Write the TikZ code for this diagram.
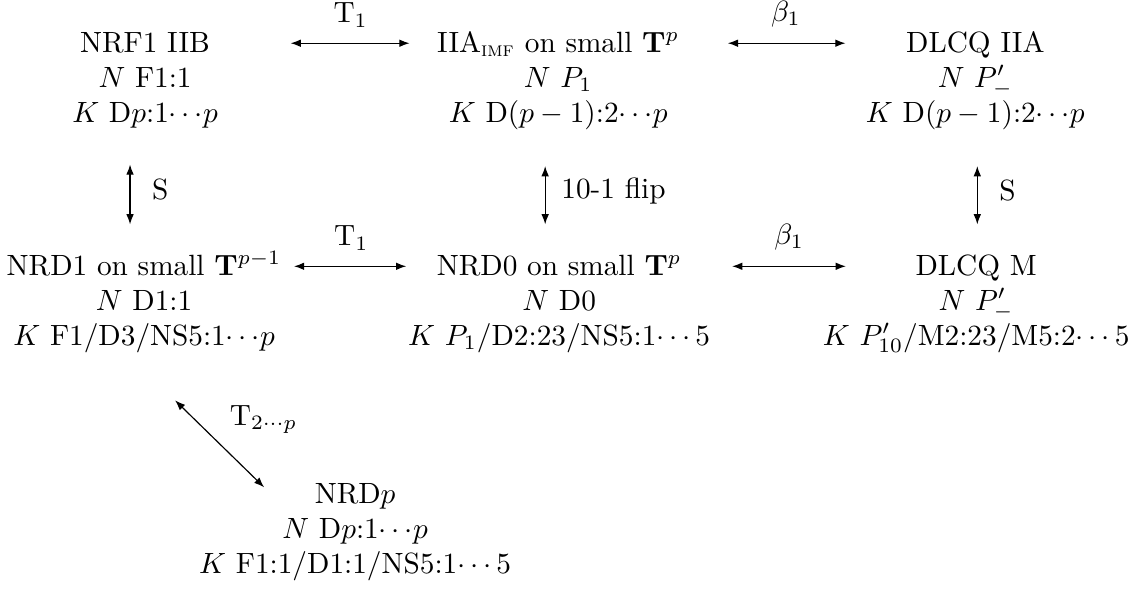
\documentclass[tikz,border=0pt]{standalone}
\usepackage{amsmath, amssymb}
\usetikzlibrary{arrows.meta, positioning}

\begin{document}
\begin{tikzpicture}[
    ttl/.style={inner sep=0pt, text height=8pt, text depth=2pt, anchor=base},
    dtl/.style={inner sep=0pt, align=center, anchor=base},
    arrow/.style={{Latex[length=3.5pt,width=2.6pt]}-{Latex[length=3.5pt,width=2.6pt]}, thin}
]
    \useasboundingbox (0,0) rectangle (13.58,-7.056);

    % Top row
    \node[ttl] (nrf) at (1.74,-0.624) {NRF1 IIB};
    \node[dtl] (nrfd) at ([yshift=-24pt]nrf.base) {$N$ F1:1\\$K$ D$p$:1${\cdots}p$};

    \node[ttl] (iia) at (6.696,-0.624) {IIA$_{\textsc{imf}}$ on small $\mathbf{T}^p$};
    \node[dtl] (iiad) at ([yshift=-24pt]iia.base) {$N$ $P_1$\\$K$ D$(p-1)$:2${\cdots}p$};

    \node[ttl] (dlcqa) at (11.70,-0.624) {DLCQ IIA};
    \node[dtl] (dlcqad) at ([yshift=-24pt]dlcqa.base) {$N$ $P'_-$\\$K$ D$(p-1)$:2${\cdots}p$};

    % Middle row
    \node[ttl] (nrd1) at (1.728,-3.30) {NRD1 on small $\mathbf{T}^{p-1}$};
    \node[dtl] (nrd1d) at ([yshift=-24pt]nrd1.base) {$N$ D1:1\\$K$ F1/D3/NS5:1${\cdots}p$};

    \node[ttl] (nrd0) at (6.708,-3.30) {NRD0 on small $\mathbf{T}^p$};
    \node[dtl] (nrd0d) at ([yshift=-24pt]nrd0.base) {$N$ D0\\$K$ $P_1$/D2:23/NS5:1$\cdots$5};

    \node[ttl] (dlcqm) at (11.71,-3.30) {DLCQ M};
    \node[dtl] (dlcqmd) at ([yshift=-24pt]dlcqm.base) {$N$ $P'_-$\\$K$ $P'_{10}$/M2:23/M5:2$\cdots$5};

    % Bottom
    \node[ttl] (nrdp) at (4.26,-6.036) {NRD$p$};
    \node[dtl] (nrdpd) at ([yshift=-24pt]nrdp.base) {$N$ D$p$:1${\cdots}p$\\$K$ F1:1/D1:1/NS5:1$\cdots$5};

    % Horizontal dualities
    \draw[arrow, shorten <=0.96cm, shorten >=0.324cm] (nrf) -- node[pos=0.62, above=2pt] {T$_1$} (iia);
    \draw[arrow, shorten <=0.576cm, shorten >=0.72cm] (iia) -- node[pos=0.47, above=2pt] {$\beta_1$} (dlcqa);
    \draw[arrow, shorten <=0.144cm, shorten >=0.36cm] (nrd1) -- node[pos=0.45, above=2pt] {T$_1$} (nrd0);
    \draw[arrow, shorten <=0.6cm, shorten >=0.828cm] (nrd0) -- node[pos=0.46, above=2pt] {$\beta_1$} (dlcqm);

    % Vertical dualities
    \draw[arrow, shorten <=0.43cm, shorten >=0.32cm] ([xshift=-0.18cm]nrfd.south) -- node[right=4pt] {S} ([xshift=-0.18cm]nrfd.south |- nrd1.north);
    \draw[arrow, shorten <=0.43cm, shorten >=0.32cm] ([xshift=-0.156cm]iiad.south) -- node[right=2pt] {10-1 flip} ([xshift=-0.156cm]iiad.south |- nrd0.north);
    \draw[arrow, shorten <=0.43cm, shorten >=0.32cm] ([xshift=0.024cm]dlcqad.south) -- node[right=4pt] {S} ([xshift=0.024cm]dlcqad.south |- dlcqm.north);

    % Diagonal
    \draw[arrow] ([shift={(0.372,-0.564)}]nrd1d.south) -- node[above right] {T$_{2\cdots p}$} ([shift={(-0.6,0.084)}]nrdp.west);
\end{tikzpicture}
\end{document}
